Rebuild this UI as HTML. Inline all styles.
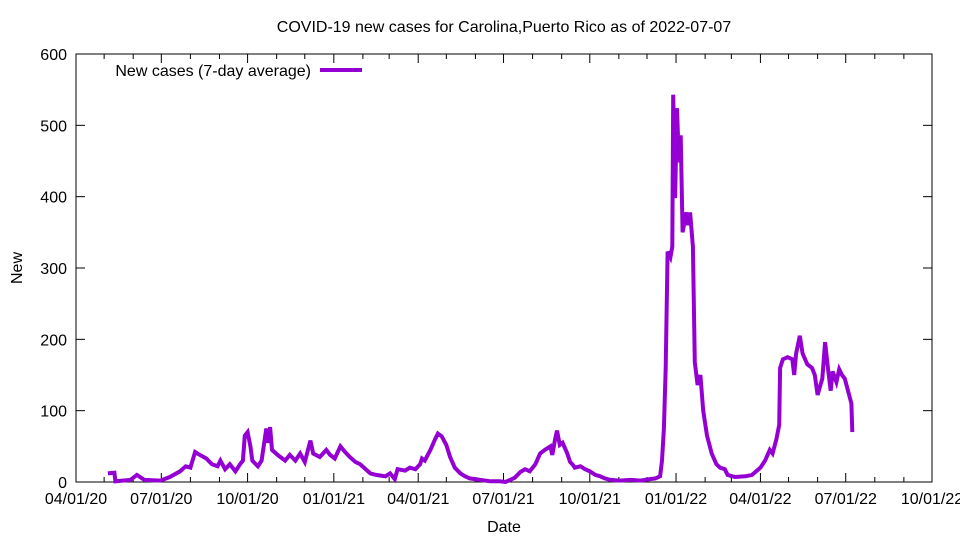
<!DOCTYPE html>
<html><head><meta charset="utf-8"><style>
body{margin:0;background:#fff}
svg text{font-family:"Liberation Sans",sans-serif;font-size:16px;fill:#000}
</style></head><body>
<svg id="chart" width="960" height="540" xmlns="http://www.w3.org/2000/svg">
<text x="504" y="32" text-anchor="middle">COVID-19 new cases for Carolina,Puerto Rico as of 2022-07-07</text>
<text x="504" y="532" text-anchor="middle">Date</text>
<text transform="translate(22,268) rotate(-90)" text-anchor="middle">New</text>
<g id="axes"></g>
<rect x="76" y="54" width="856" height="428" fill="none" stroke="#000" stroke-width="1"/>
<g id="series"></g>
<g>
<text x="311" y="76" text-anchor="end">New cases (7-day average)</text>
<line x1="320" y1="70" x2="362" y2="70" stroke="#9400d3" stroke-width="4"/>
</g>
</svg>
<script>
const days=[34,41,42,58,65,73,90,100,111,117,122,127,132,139,145,151,154,159,164,170,175,178,180,183,186,188,194,198,203,205,207,209,215,223,228,234,239,244,250,253,260,267,271,276,282,287,292,298,303,309,314,320,330,335,340,343,351,356,362,367,369,372,378,383,386,390,395,399,404,410,415,420,431,442,452,458,463,468,474,479,484,490,495,500,506,508,511,513,516,519,524,527,530,532,538,543,548,554,559,564,570,580,591,602,612,618,623,625,627,629,631,634,636,637,639,641,643,645,647,651,653,655,658,660,663,666,669,673,678,683,687,692,695,703,714,721,730,735,740,743,747,750,751,754,759,764,766,768,772,775,780,785,788,791,796,799,802,805,807,811,814,817,820,823,827,828];
const values=[12,13,1,3,10,3,2,7,15,22,20,42,38,33,25,22,30,18,25,15,25,30,65,70,50,30,22,30,75,55,77,45,38,30,38,30,40,28,58,40,35,45,38,33,50,42,35,28,25,18,12,10,8,12,4,18,16,20,18,25,33,30,45,60,68,64,52,35,20,12,8,5,3,1,1,0,3,6,14,18,15,25,40,45,50,38,60,72,52,55,40,28,24,20,22,18,15,10,8,5,3,2,3,2,4,5,8,30,75,160,323,315,330,543,398,524,448,486,350,378,360,378,330,168,136,150,100,65,40,25,20,18,10,7,8,10,20,30,45,40,60,80,160,172,175,172,150,180,205,180,165,160,150,122,145,196,160,128,155,140,158,150,145,130,110,70];
const xTickDays=[0,91,183,275,365,456,548,640,730,821,913];
const xTickLabels=["04/01/20","07/01/20","10/01/20","01/01/21","04/01/21","07/01/21","10/01/21","01/01/22","04/01/22","07/01/22","10/01/22"];
const minorDays=[30,61,122,153,214,244,306,334,395,426,487,518,579,609,671,699,760,791,852,883];
const yTicks=[0,100,200,300,400,500,600];
const X0=76,X1=932,Y0=482,Y1=54,DMAX=913,VMAX=600;
const xs=d=>X0+d/DMAX*(X1-X0);
const ys=v=>Y0-v/VMAX*(Y0-Y1);
const NS="http://www.w3.org/2000/svg";
const axes=document.getElementById('axes');
function mk(tag,attrs,parent){const e=document.createElementNS(NS,tag);for(const k in attrs)e.setAttribute(k,attrs[k]);parent.appendChild(e);return e;}
yTicks.forEach(v=>{
 const y=ys(v);
 const t=mk('line',{x1:X0,x2:X0+9,y1:y,y2:y,stroke:'#000'},axes);
 
 
 const t2=mk('line',{x1:X1-9,x2:X1,y1:y,y2:y,stroke:'#000'},axes);
 
 
 const l=mk('text',{x:X0-9,y:y+6,'text-anchor':'end'},axes);
 l.textContent=v;
 
 
});
xTickDays.forEach((d,i)=>{
 const x=xs(d);
 const t=mk('line',{x1:x,x2:x,y1:Y0,y2:Y0-9,stroke:'#000'},axes);
 
 
 const t2=mk('line',{x1:x,x2:x,y1:Y1,y2:Y1+9,stroke:'#000'},axes);
 
 
 const l=mk('text',{x:x,y:Y0+22,'text-anchor':'middle'},axes);
 l.textContent=xTickLabels[i];
 
 
});
minorDays.forEach(d=>{
 const x=xs(d);
 const t=mk('line',{x1:x,x2:x,y1:Y0,y2:Y0-5,stroke:'#000'},axes);
 
 
 const t2=mk('line',{x1:x,x2:x,y1:Y1,y2:Y1+5,stroke:'#000'},axes);
 
 
});
const pts=days.map((d,i)=>xs(d).toFixed(1)+','+ys(values[i]).toFixed(1)).join(' ');
const line=mk('polyline',{points:pts,fill:'none',stroke:'#9400d3','stroke-width':4,'stroke-linejoin':'miter'},document.getElementById('series'));


</script>
</body></html>
